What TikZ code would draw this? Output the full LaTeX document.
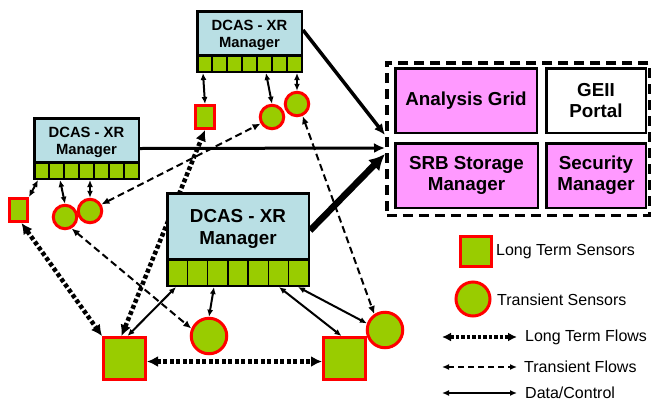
\documentclass[tikz,border=0pt]{standalone}
\usepackage{fontspec}
\setmainfont{Liberation Sans}
\usetikzlibrary{arrows.meta,backgrounds}
\definecolor{sgreen}{RGB}{153,204,0}
\definecolor{mblue}{RGB}{185,223,228}
\definecolor{pinkb}{RGB}{255,153,255}
\begin{document}
\begin{tikzpicture}[x=1pt,y=-1pt,
  mgr/.style={draw, line width=2.5pt, fill=mblue, inner sep=0pt, anchor=north west},
  mgrs/.style={mgr, minimum width=104.5pt, minimum height=43.5pt},
  mgrb/.style={mgr, minimum width=141.5pt, minimum height=65.5pt},
  mtxts/.style={align=center, inner sep=0pt, font=\fontsize{14.8}{17}\bfseries\selectfont},
  mtxtb/.style={align=center, inner sep=0pt, font=\fontsize{18.8}{21.5}\bfseries\selectfont},
  stripbox/.style={draw, line width=2.5pt, fill=sgreen, inner sep=0pt, anchor=north west},
  lsens/.style={rectangle, draw=red, fill=sgreen, line width=3pt, inner sep=0pt},
  tsens/.style={circle, draw=red, fill=sgreen, line width=3pt, inner sep=0pt},
  svc/.style={draw, line width=2.5pt, fill=pinkb, align=center, inner sep=0pt, anchor=north west,
    minimum height=64.5pt, font=\fontsize{18.8}{21}\bfseries\selectfont},
  dc/.style={line width=2pt, {Latex[length=7pt,width=6pt]}-{Latex[length=7pt,width=6pt]}},
  ltf/.style={line width=4.5pt, dash pattern=on 4pt off 2.5pt, {Latex[length=11pt,width=11pt]}-{Latex[length=11pt,width=11pt]}},
  tf/.style={line width=2pt, dash pattern=on 7pt off 4pt, {Latex[length=8pt,width=7pt]}-{Latex[length=8pt,width=7pt]}},
  legtext/.style={anchor=west, inner sep=0pt, font=\fontsize{16}{19}\selectfont}
]
\useasboundingbox (0,0) rectangle (653,405);

% managers
\node[mgrs] (m1) at (196,10) {};
\node[mtxts] (m1t) at ([yshift=-2.5pt]m1.center) {DCAS - XR\\Manager};
\node[stripbox, minimum width=104.5pt, minimum height=16.5pt] (s1) at (196,54) {};
\foreach \i in {1,...,6} \draw[line width=1.5pt] ({197.25+\i*104.5/7},55) -- ({197.25+\i*104.5/7},72);

\node[mgrs] (m2) at (33,117) {};
\node[mtxts] (m2t) at ([yshift=-2.5pt]m2.center) {DCAS - XR\\Manager};
\node[stripbox, minimum width=104.5pt, minimum height=16.5pt] (s2) at (33,161) {};
\foreach \i in {1,...,6} \draw[line width=1.5pt] ({34.25+\i*104.5/7},162) -- ({34.25+\i*104.5/7},179);

\node[mgrb] (m3) at (166,192) {};
\node[mtxtb] (m3t) at ([yshift=-3pt]m3.center) {DCAS - XR\\Manager};
\node[stripbox, minimum width=141.5pt, minimum height=26.5pt] (s3) at (166,258) {};
\foreach \i in {1,...,6} \draw[line width=1.5pt] ({167.25+\i*141.5/7},259) -- ({167.25+\i*141.5/7},286);

% service group
\node[draw, line width=3.5pt, dash pattern=on 10pt off 6pt, anchor=north west, inner sep=0pt,
      minimum width=262.5pt, minimum height=152.5pt] (grp) at (385,61) {};
\node[svc, minimum width=141.5pt] (ag) at (394,67) {Analysis Grid};
\node[svc, minimum width=99.5pt, fill=white] (ge) at (545,67) {GEII\\Portal};
\node[svc, minimum width=142.5pt] (srb) at (394,142) {SRB Storage\\Manager};
\node[svc, minimum width=99.5pt] (sec) at (545,142) {Security\\Manager};

% sensors
\node[lsens, minimum width=19pt, minimum height=23pt] (sq1) at (205,117) {};
\node[tsens, minimum size=23.5pt] (c1) at (272,117) {};
\node[tsens, minimum size=23.5pt] (c2) at (297,104) {};
\node[lsens, minimum width=18pt, minimum height=23pt] (sq2) at (18.5,210) {};
\node[tsens, minimum size=23.5pt] (ca) at (65,217) {};
\node[tsens, minimum size=23.5pt] (cb) at (90,211) {};
\node[lsens, minimum size=42pt] (bsq1) at (124.5,358.5) {};
\node[lsens, minimum size=42pt] (bsq2) at (344.5,358.5) {};
\node[tsens, minimum size=35.5pt] (mc) at (209,336) {};
\node[tsens, minimum size=35.5pt] (rc) at (385,330) {};

% connectors
\begin{pgfonlayer}{background}
\draw[line width=3.5pt, -{Latex[length=11pt,width=10pt]}] ([yshift=3pt]m1.east) -- ([yshift=4pt]grp.west);
\draw[line width=3pt, -{Latex[length=11pt,width=10pt]}] ([yshift=-8.5pt]m2.east) -- ([yshift=-9pt]grp.west);
\draw[line width=6.5pt, -{Latex[length=16pt,width=16pt]}] ([yshift=-4.5pt]m3.east) -- ([yshift=-15pt]grp.west);

\draw[dc] ([xshift=7pt]s1.south west) -- (sq1.north);
\draw[dc] ([xshift=70pt]s1.south west) -- (c1.north);
\draw[dc] ([xshift=101pt]s1.south west) -- (c2.north);
\draw[dc] ([xshift=5pt]s2.south west) -- (sq2.north east);
\draw[dc] ([xshift=27pt]s2.south west) -- (ca.north);
\draw[dc] ([xshift=57pt]s2.south west) -- (cb.north);
\draw[dc] ([xshift=10pt]s3.south west) -- ([xshift=3pt]bsq1.north);
\draw[dc] ([xshift=48pt]s3.south west) -- (mc.north);
\draw[dc] ([xshift=113pt]s3.south west) -- ([xshift=-3pt]bsq2.north);
\draw[dc] ([xshift=132pt]s3.south west) -- (rc.160);

\draw[ltf] ([xshift=3pt]sq2.south) -- (bsq1.north west);
\draw[ltf] ([xshift=-3pt]bsq1.north) -- (sq1.south);
\draw[ltf] ([yshift=-3pt]bsq1.east) -- ([yshift=-3pt]bsq2.west);

\draw[tf] (cb.30) -- (c1.210);
\draw[tf] (ca.-60) -- (mc.157);
\draw[tf] (c2.-65) -- (rc.124);
\end{pgfonlayer}

% legend
\node[lsens, minimum width=31pt, minimum height=30pt] (lsq) at (476,251.5) {};
\node[legtext] (lsqt) at (496,252) {Long Term Sensors};
\node[tsens, minimum size=34pt] (lci) at (473,299) {};
\node[legtext] (lcit) at (497,300) {Transient Sensors};
\coordinate (la1) at (442,337); \coordinate (la2) at (517,337);
\draw[line width=3.5pt, dash pattern=on 3.5pt off 2pt, {Latex[length=9pt,width=9pt]}-{Latex[length=9pt,width=9pt]}] (la1) -- (la2);
\node[legtext] (lat) at (525,337) {Long Term Flows};
\coordinate (lb1) at (442,367); \coordinate (lb2) at (517,367);
\draw[line width=1.6pt, dash pattern=on 6pt off 4pt, {Latex[length=7pt,width=6pt]}-{Latex[length=7pt,width=6pt]}] (lb1) -- (lb2);
\node[legtext] (lbt) at (524,367) {Transient Flows};
\coordinate (lc1) at (442,393); \coordinate (lc2) at (517,393);
\draw[dc] (lc1) -- (lc2);
\node[legtext] (lct) at (525,393) {Data/Control};
\end{tikzpicture}
\end{document}
